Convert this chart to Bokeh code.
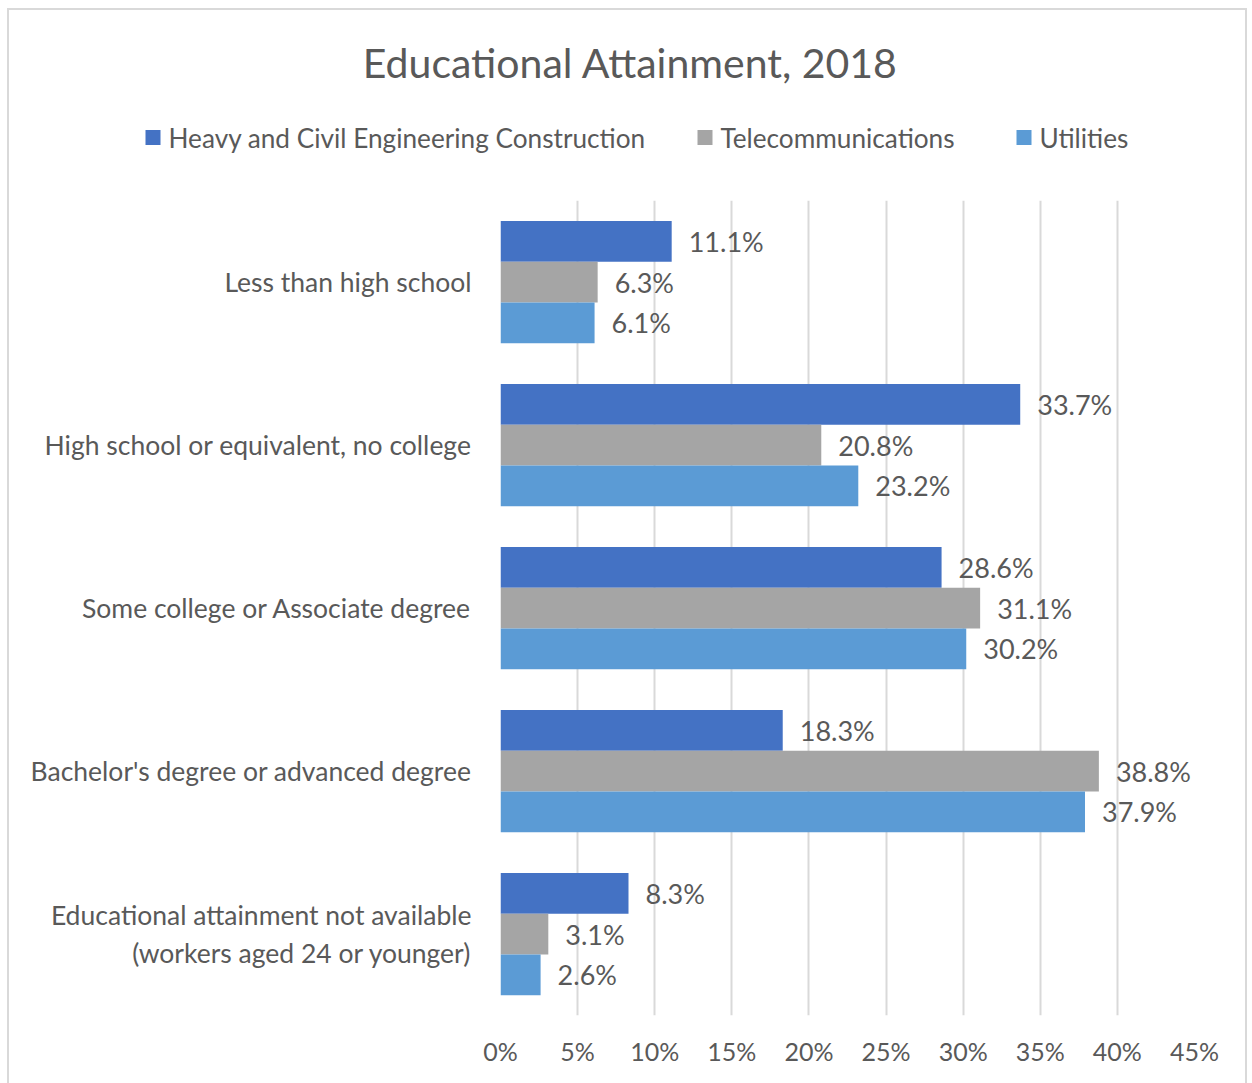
from bokeh.plotting import figure
from bokeh.models import (ColumnDataSource, FactorRange, Label, BoxAnnotation,
                          NumeralTickFormatter, FixedTicker, Range1d, InlineStyleSheet)
from bokeh.transform import dodge
from bokeh.embed import file_html
from bokeh.resources import INLINE

categories = [
    "Less than high school",
    "High school or equivalent, no college",
    "Some college or Associate degree",
    "Bachelor's degree or advanced degree",
    "Educational attainment not available\n(workers aged 24 or younger)",
]
series_names = ["Heavy and Civil Engineering Construction", "Telecommunications", "Utilities"]
heavy = [11.1, 33.7, 28.6, 18.3, 8.3]
telecom = [6.3, 20.8, 31.1, 38.8, 3.1]
utilities = [6.1, 23.2, 30.2, 37.9, 2.6]
tick_values = [0, 5, 10, 15, 20, 25, 30, 35, 40, 45]
title_text = "Educational Attainment, 2018"

colors = ["#4472C4", "#A5A5A5", "#5B9BD5"]
FONT = "Lato"
TXT = "#595959"

W, HH, HM = 1252, 200, 883

# ---------------- header: title + legend ----------------
head = figure(width=W, height=HH, output_backend="svg", toolbar_location=None,
              title_location=None, x_axis_location=None, y_axis_location=None,
              x_range=Range1d(0, W), y_range=Range1d(0, HH),
              min_border_left=0, min_border_right=0, min_border_top=0, min_border_bottom=0)
head.grid.visible = False
head.outline_line_color = None
head.background_fill_color = "white"
head.border_fill_color = "white"
head.stylesheets = [InlineStyleSheet(css=":host { position: relative; z-index: 10; } :host::after { content: ''; position: absolute; left: 7px; top: 8px; width: 1240px; height: 1090px; border: 2px solid #D9D9D9; pointer-events: none; box-sizing: border-box; }")]

head.add_layout(Label(x=630, y=HH - 62, text=title_text, text_font=FONT,
                      text_font_size="41px", text_color=TXT,
                      text_align="center", text_baseline="middle"))

legend_x = [145, 697, 1016]   # swatch left edges (px)
legend_y = HH - 137           # legend row centre
for name, col, lx in zip(series_names, colors, legend_x):
    head.add_layout(BoxAnnotation(left=lx, right=lx + 15,
                                  bottom=legend_y - 7.5, top=legend_y + 7.5,
                                  fill_color=col, fill_alpha=1, line_color=None))
    head.add_layout(Label(x=lx + 23, y=legend_y, text=name, text_font=FONT,
                          text_font_size="26.2px", text_color=TXT,
                          text_align="left", text_baseline="middle"))

# ---------------- main chart ----------------
p = figure(width=W, height=HM, output_backend="svg", toolbar_location=None,
           title_location=None,
           y_range=FactorRange(*list(reversed(categories))),
           x_range=Range1d(0, 0.45),
           min_border_left=500, min_border_right=58, min_border_top=0, min_border_bottom=68)
p.outline_line_color = None
p.background_fill_color = "white"
p.border_fill_color = "white"

series = [heavy, telecom, utilities]
offsets = [0.25, 0.0, -0.25]
for name, vals, col, off in zip(series_names, series, colors, offsets):
    src = ColumnDataSource(dict(cat=categories, v=[x / 100 for x in vals],
                                lab=[f"{x:.1f}%" for x in vals]))
    p.hbar(y=dodge("cat", off, range=p.y_range), right="v", left=0, height=0.25,
           source=src, fill_color=col, line_color=None)
    p.text(x="v", y=dodge("cat", off, range=p.y_range), text="lab", source=src,
           x_offset=17, text_baseline="middle", text_align="left",
           text_font={"value": FONT}, text_font_size="27px", text_color=TXT)

p.xaxis.ticker = FixedTicker(ticks=[t / 100 for t in tick_values])
p.xaxis.formatter = NumeralTickFormatter(format="0%")
for ax in (p.xaxis, p.yaxis):
    ax.axis_line_color = None
    ax.major_tick_line_color = None
    ax.minor_tick_line_color = None
    ax.major_label_text_font = FONT
    ax.major_label_text_color = TXT
p.xaxis.major_label_text_font_size = "25px"
p.yaxis.major_label_text_font_size = "26.5px"
p.xaxis.major_label_standoff = 14
p.yaxis.major_label_standoff = 23

p.xgrid.grid_line_color = "#D9D9D9"
p.xgrid.grid_line_width = 2
p.ygrid.grid_line_color = None

open("out.html", "w").write(file_html([head, p], INLINE))
